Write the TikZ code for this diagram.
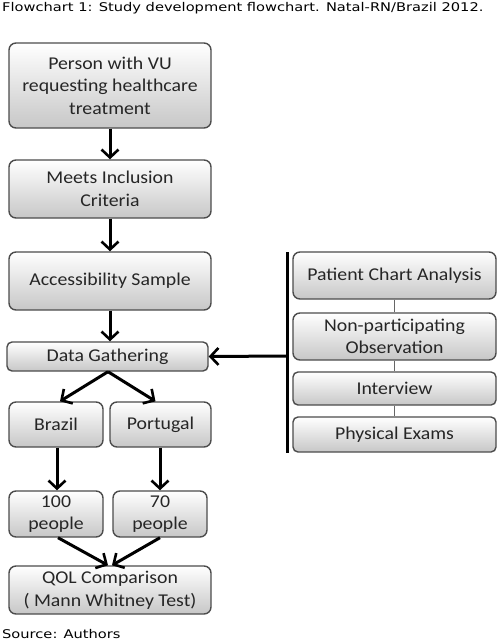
\documentclass[tikz,border=0pt]{standalone}
\usepackage{fontspec}
\setmainfont{Carlito}[FakeStretch=1.1]
\newfontfamily\capfont{DejaVu Sans}[FakeStretch=1.22]
\usetikzlibrary{arrows.meta}
\tikzset{
  box/.style={draw=black!70, line width=1.4pt, rounded corners=7pt,
    top color=white, bottom color=black!22, align=center,
    inner sep=1pt, font=\fontsize{18}{22.5}\selectfont, text=black!85},
  arr/.style={line width=3pt, -{Straight Barb[length=8pt,width=17pt,line width=2.6pt]}},
  thin/.style={draw=black!60, line width=1pt}
}
\begin{document}
\begin{tikzpicture}[x=1pt,y=-1pt]
\useasboundingbox (0,0) rectangle (500,640);
\node[anchor=base west, inner sep=0pt, font=\capfont\fontsize{12}{14}\selectfont] (title) at (2,11.5) {Flowchart 1: Study development flowchart. Natal-RN/Brazil 2012.};
\node[anchor=base west, inner sep=0pt, font=\capfont\fontsize{12}{14}\selectfont] (src) at (2,638.5) {Source: Authors};

\node[box, minimum width=202pt, minimum height=85pt] (person) at (110,85.5) {Person with VU\\requesting healthcare\\treatment};
\node[box, minimum width=202pt, minimum height=58pt] (meets) at (110,189) {Meets Inclusion\\Criteria};
\node[box, minimum width=202pt, minimum height=58pt] (access) at (110,281) {Accessibility Sample};
\node[box, minimum width=201pt, minimum height=29pt, rounded corners=5pt] (data) at (107.5,356.5) {Data Gathering};

\node[box, minimum width=203pt, minimum height=47pt] (patient) at (394.5,275.5) {Patient Chart Analysis};
\node[box, minimum width=203pt, minimum height=47pt] (nonpart) at (394.5,336.5) {Non-participating\\Observation};
\node[box, minimum width=203pt, minimum height=33pt, rounded corners=5pt] (interview) at (394.5,388.5) {Interview};
\node[box, minimum width=203pt, minimum height=35pt, rounded corners=5pt] (physical) at (394.5,434.5) {Physical Exams};

\node[box, minimum width=94pt, minimum height=45pt] (brazil) at (56,424.5) {Brazil};
\node[box, minimum width=101pt, minimum height=45pt] (portugal) at (160.5,424.5) {Portugal};
\node[box, minimum width=94pt, minimum height=46pt] (p100) at (56,514) {100\\people};
\node[box, minimum width=94pt, minimum height=46pt] (p70) at (160,514) {70\\people};
\node[box, minimum width=202pt, minimum height=48pt] (qol) at (110,590) {QOL Comparison\\( Mann Whitney Test)};

% right column links
\draw[thin] (patient) -- (nonpart);
\draw[thin] (nonpart) -- (interview);
\draw[thin] (interview) -- (physical);
\coordinate (bartop) at (287,252);
\coordinate (barbot) at (287,453);
\coordinate (barmid) at (287,356);
\draw[line width=3pt] (bartop) -- (barbot);
\draw[arr] (barmid) -- (data.east);

% main flow
\draw[arr] (person) -- (meets);
\draw[arr] (meets) -- (access);
\draw[arr] (access) -- ([xshift=2.5pt]data.north);
\draw[arr] ([xshift=0.5pt]data.south) -- ([xshift=4pt]brazil.north);
\draw[arr] ([xshift=0.5pt]data.south) -- ([xshift=-5pt]portugal.north);
\draw[arr] ([xshift=1pt]brazil.south) -- ([xshift=1pt]p100.north);
\draw[arr] ([xshift=-0.5pt]portugal.south) -- (p70.north);
\draw[arr] ([xshift=2pt]p100.south) -- ([xshift=-2pt]qol.north);
\draw[arr] (p70.south) -- ([xshift=2pt]qol.north);
\end{tikzpicture}
\end{document}
